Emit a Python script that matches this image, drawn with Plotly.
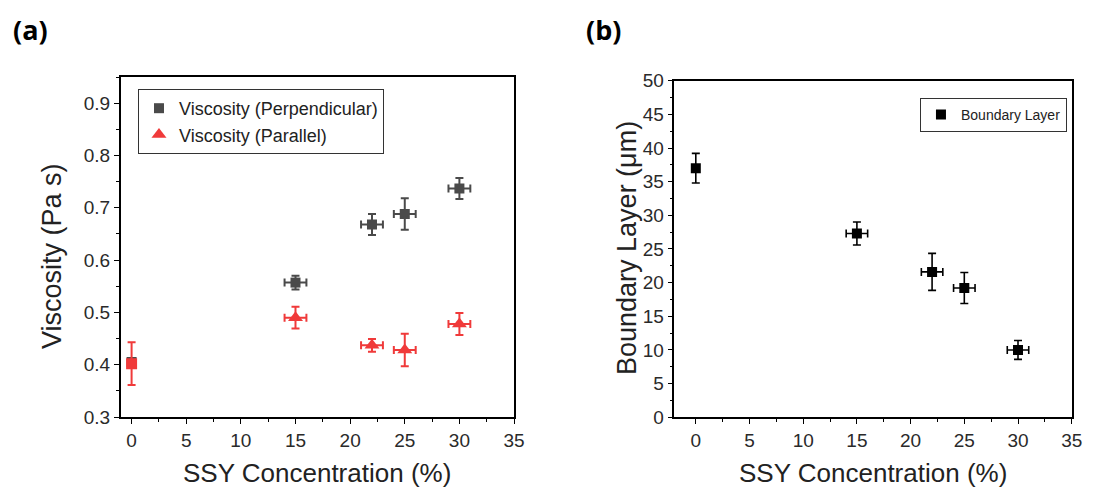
import plotly.graph_objects as go

# ---- data ----
ssy = [0, 15, 22, 25, 30]
ssy_err = [0, 1, 1, 1, 1]

visc_perp = [0.405, 0.557, 0.668, 0.688, 0.737]
visc_perp_err = [0.0, 0.013, 0.02, 0.03, 0.02]

visc_par = [0.402, 0.490, 0.437, 0.428, 0.478]
visc_par_err = [0.041, 0.021, 0.012, 0.031, 0.021]

boundary = [37.0, 27.3, 21.6, 19.2, 10.0]
boundary_err = [2.2, 1.7, 2.75, 2.3, 1.4]

GRAY = "#4a4a4a"
RED = "#f03a3a"
FONT = "Liberation Sans, Arial, sans-serif"

fig = go.Figure()

# left panel: perpendicular
fig.add_trace(go.Scatter(
    x=ssy, y=visc_perp, mode="markers", name="Viscosity (Perpendicular)",
    marker=dict(symbol="square", size=10, color=GRAY),
    error_y=dict(type="data", array=visc_perp_err, color=GRAY, thickness=2, width=4),
    error_x=dict(type="data", array=ssy_err, color=GRAY, thickness=2, width=4),
    xaxis="x", yaxis="y", legend="legend",
))
# left panel: parallel (first point drawn as square, overlapping the 0% sample)
fig.add_trace(go.Scatter(
    x=ssy[1:], y=visc_par[1:], mode="markers", name="Viscosity (Parallel)",
    marker=dict(symbol="triangle-up", size=13, color=RED),
    error_y=dict(type="data", array=visc_par_err[1:], color=RED, thickness=2, width=4),
    error_x=dict(type="data", array=ssy_err[1:], color=RED, thickness=2, width=4),
    xaxis="x", yaxis="y", legend="legend",
))
fig.add_trace(go.Scatter(
    x=ssy[:1], y=visc_par[:1], mode="markers", name="Viscosity (Parallel)",
    showlegend=False,
    marker=dict(symbol="square", size=11, color=RED),
    error_y=dict(type="data", array=visc_par_err[:1], color=RED, thickness=2, width=4),
    xaxis="x", yaxis="y",
))

# right panel
fig.add_trace(go.Scatter(
    x=ssy, y=boundary, mode="markers", name="Boundary Layer",
    marker=dict(symbol="square", size=10, color="black"),
    error_y=dict(type="data", array=boundary_err, color="black", thickness=1.6, width=4),
    error_x=dict(type="data", array=ssy_err, color="black", thickness=1.6, width=4),
    xaxis="x2", yaxis="y2", legend="legend2",
))

axis_common = dict(
    showline=True, linecolor="black", linewidth=1.5, mirror=True,
    ticks="outside", ticklen=5, tickwidth=1.3, tickcolor="black",
    showgrid=False, zeroline=False, automargin=False,
    tickfont=dict(family=FONT, size=19, color="#2a2a2a"),
)

fig.update_layout(
    template="none",
    width=1110, height=489,
    margin=dict(l=0, r=0, t=0, b=0),
    paper_bgcolor="white", plot_bgcolor="white",
    font=dict(family=FONT, color="#222222"),
    xaxis=dict(domain=[0.1087, 0.4631], range=[-1, 35], dtick=5, tick0=0,
               minor=dict(dtick=2.5, ticklen=3, tickcolor="black", ticks="outside"),
               anchor="y", **axis_common),
    yaxis=dict(domain=[0.1472, 0.8425], range=[0.3, 0.95], dtick=0.1, tick0=0.3,
               tickformat=".1f",
               minor=dict(dtick=0.05, ticklen=3, tickcolor="black", ticks="outside"),
               anchor="x", **axis_common),
    xaxis2=dict(domain=[0.6075, 0.9655], range=[-2, 35], dtick=5, tick0=0,
                minor=dict(dtick=2.5, ticklen=3, tickcolor="black", ticks="outside"),
                anchor="y2", **axis_common),
    yaxis2=dict(domain=[0.1466, 0.835], range=[0, 50], dtick=5, tick0=0,
                minor=dict(dtick=2.5, ticklen=3, tickcolor="black", ticks="outside"),
                anchor="x2", **axis_common),
    legend=dict(x=0.1243, y=0.818, xanchor="left", yanchor="top",
                bordercolor="#333333", borderwidth=1, bgcolor="white",
                font=dict(family=FONT, size=18, color="#222222"),
                tracegroupgap=0, itemwidth=30),
    legend2=dict(x=0.8288, y=0.80, xanchor="left", yanchor="top",
                 bordercolor="#333333", borderwidth=1, bgcolor="white",
                 font=dict(family=FONT, size=14, color="#222222"),
                 itemwidth=30),
    showlegend=True,
)

annotations = [
    dict(text="<b>(a)</b>", x=30, y=30, font=dict(family="Open Sans, sans-serif", size=27, color="black")),
    dict(text="<b>(b)</b>", x=603, y=30, font=dict(family="Open Sans, sans-serif", size=27, color="black")),
    dict(text="Viscosity (Pa s)", x=52, y=256, textangle=-90, font=dict(family=FONT, size=27, color="#222222")),
    dict(text="SSY Concentration (%)", x=317, y=473, font=dict(family=FONT, size=26, color="#222222")),
    dict(text="Boundary Layer (\u03bcm)", x=627, y=248, textangle=-90, font=dict(family=FONT, size=27, color="#222222")),
    dict(text="SSY Concentration (%)", x=873, y=473, font=dict(family=FONT, size=26, color="#222222")),
]
for a in annotations:
    fig.add_annotation(
        text=a["text"], x=a["x"] / 1110, y=1 - a["y"] / 489,
        xref="paper", yref="paper", xanchor="center", yanchor="middle",
        showarrow=False, textangle=a.get("textangle", 0), font=a["font"],
    )

fig.write_html(
    "out.html",
    config={"displayModeBar": False},
    post_script="document.body.style.margin='0';document.documentElement.style.overflow='hidden';",
)
